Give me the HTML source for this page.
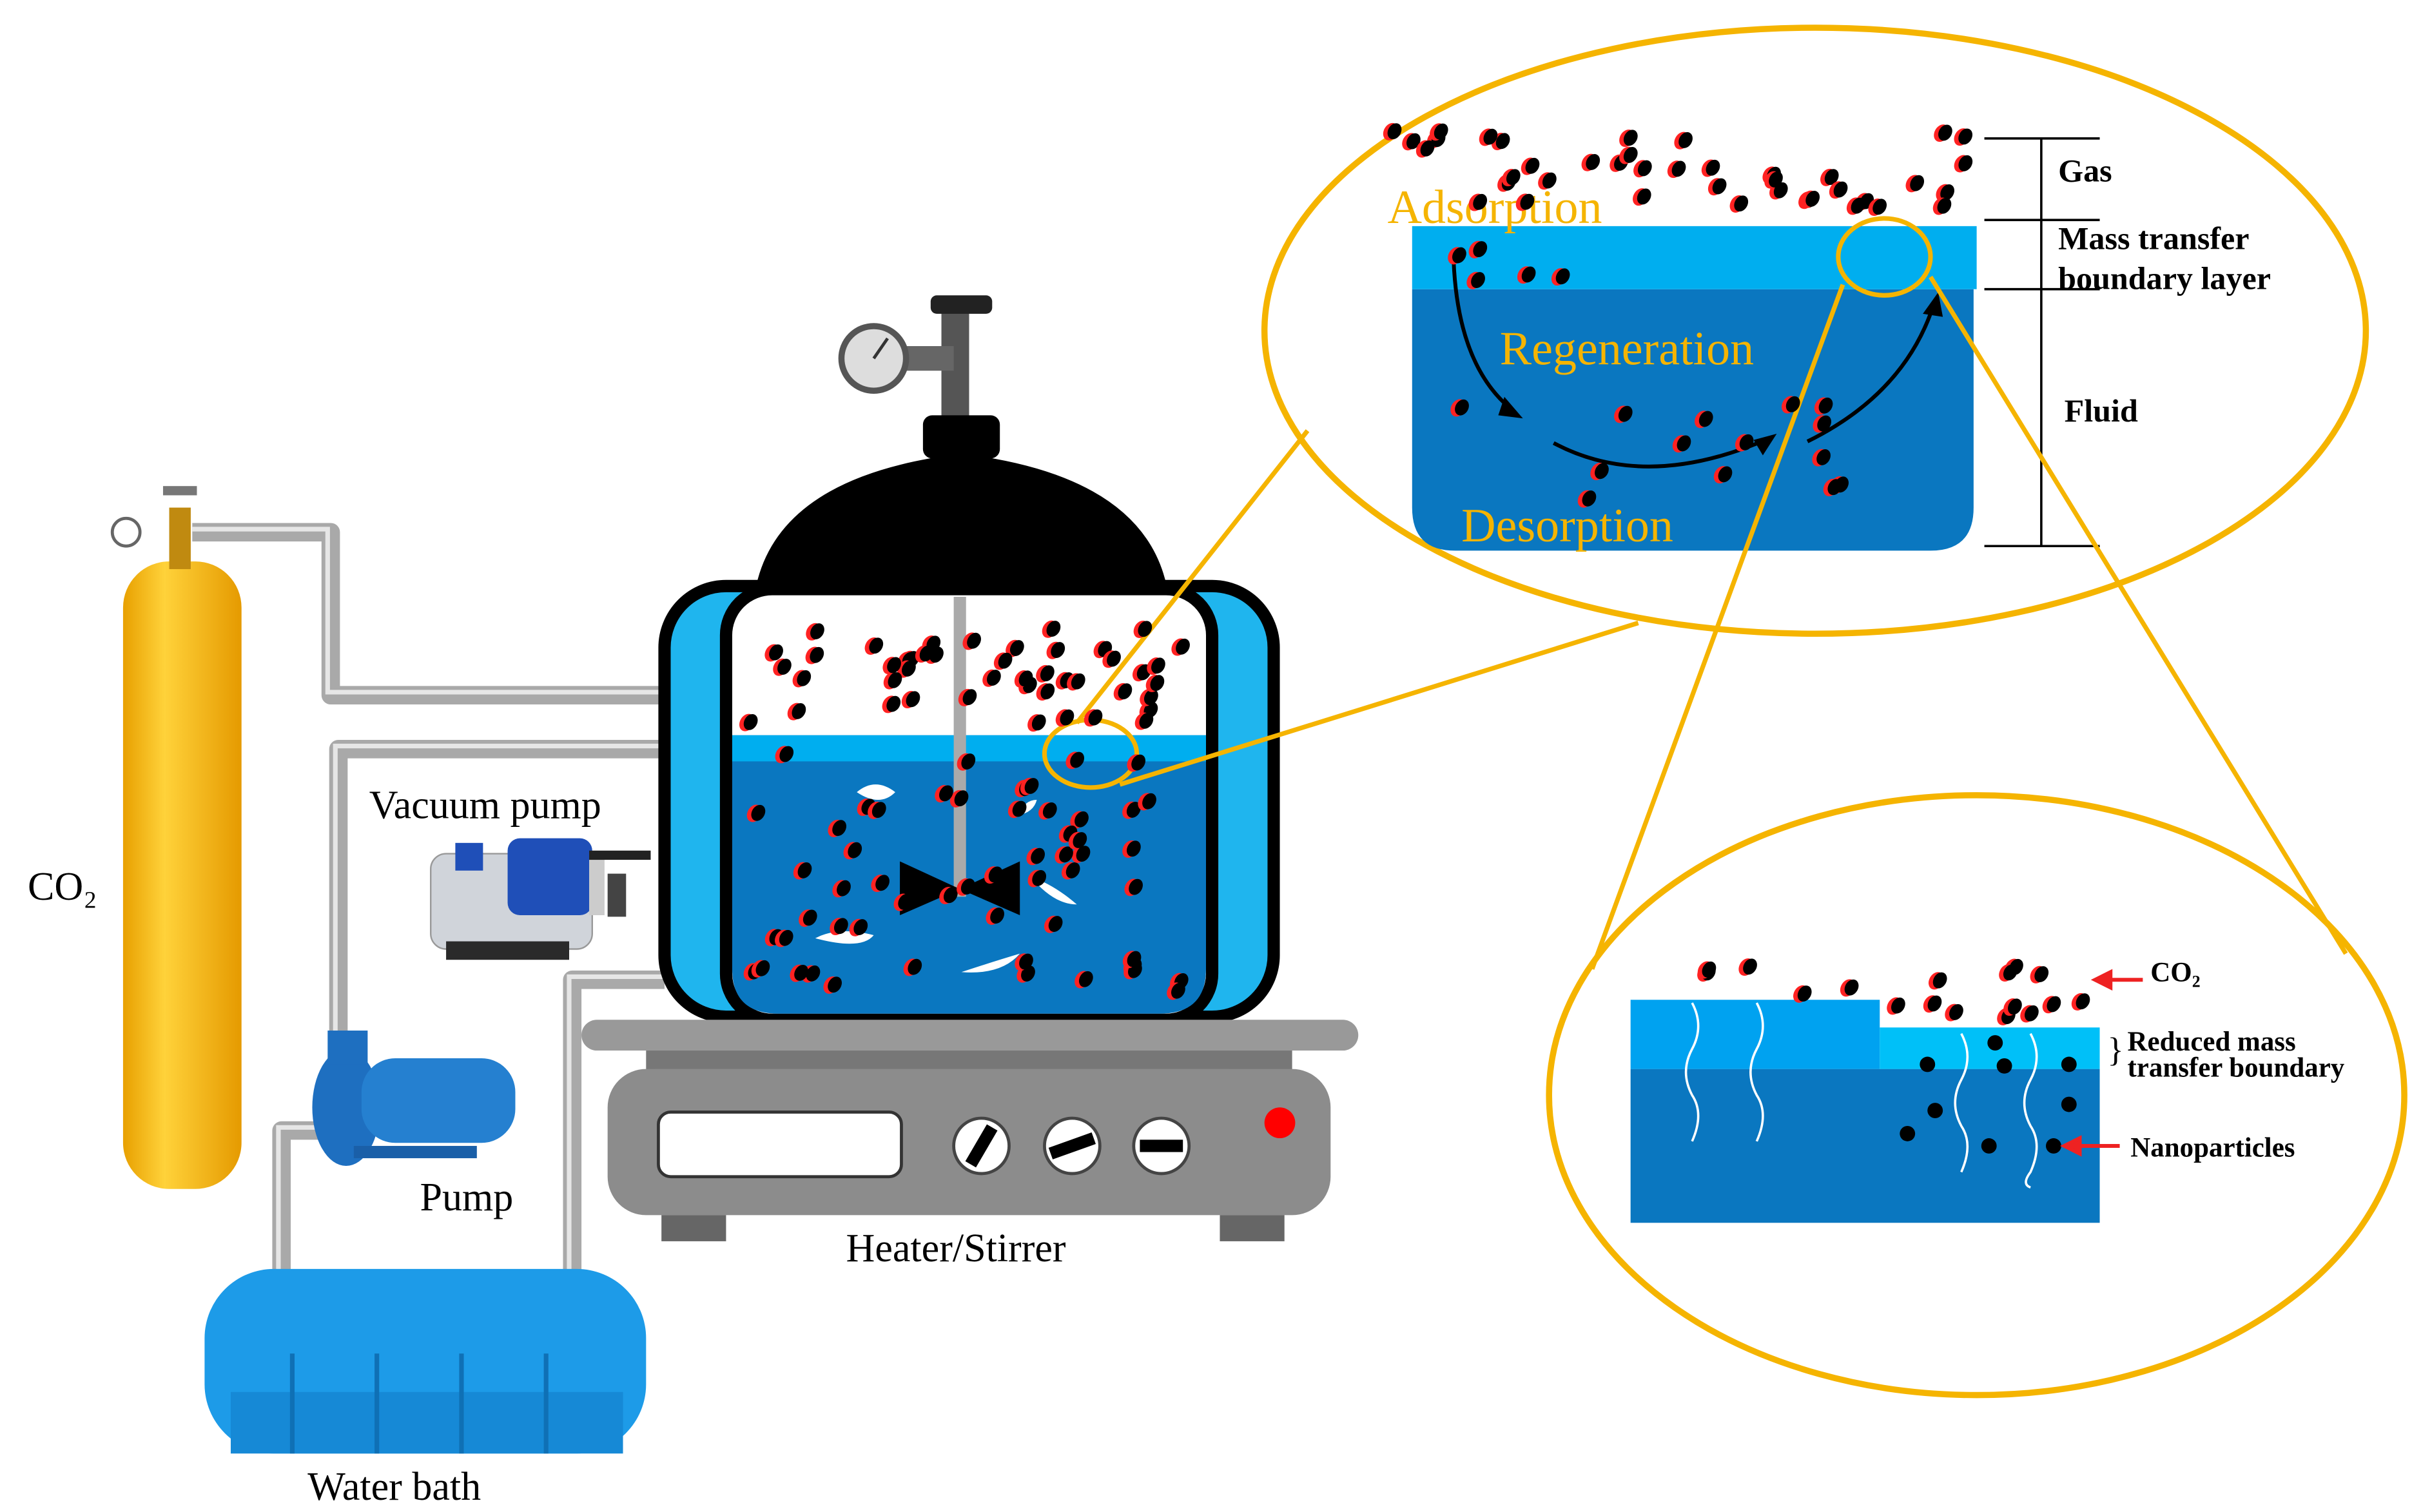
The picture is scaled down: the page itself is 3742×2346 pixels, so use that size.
<!DOCTYPE html>
<html><head><meta charset="utf-8"><style>
html,body{margin:0;padding:0;background:#fff}
svg{display:block}
.s{font-family:"Liberation Serif",serif}
</style></head><body>
<svg id="root" width="3742" height="2346" viewBox="0 0 1568 983" xmlns="http://www.w3.org/2000/svg">
<defs>
<linearGradient id="cyl" x1="0" x2="1"><stop offset="0" stop-color="#e8a000"/><stop offset="0.35" stop-color="#ffd23a"/><stop offset="1" stop-color="#e59a00"/></linearGradient>
</defs>
<rect width="1568" height="983" fill="#fff"/>
<g fill="none" stroke="#a9a9a9" stroke-width="12" stroke-linejoin="round">
<path d="M125 346 H215 V452 H432"/>
<path d="M432 487 H220 V672"/>
<path d="M183 828 V735 H215"/>
<path d="M372 828 V637 H432"/>
</g>
<g fill="none" stroke="#e6e6e6" stroke-width="3">
<path d="M125 344 H213 V450 H432"/>
<path d="M432 485 H218 V672"/>
<path d="M181 828 V733 H215"/>
<path d="M370 828 V635 H432"/>
</g>
<rect x="80" y="365" width="77" height="408" rx="30" fill="url(#cyl)"/>
<rect x="110" y="330" width="14" height="40" fill="#c08a10"/>
<rect x="106" y="316" width="22" height="6" fill="#777"/>
<circle cx="82" cy="346" r="9" fill="#fff" stroke="#666" stroke-width="2"/>
<text x="18" y="585" class="s" font-size="26">CO₂</text>
<rect x="280" y="555" width="105" height="62" rx="10" fill="#d0d4da" stroke="#999"/>
<rect x="330" y="545" width="55" height="50" rx="8" fill="#1f4fb8"/>
<rect x="296" y="548" width="18" height="18" fill="#1f4fb8"/>
<rect x="383" y="555" width="10" height="40" fill="#ccc"/>
<rect x="395" y="568" width="12" height="28" fill="#444"/>
<rect x="383" y="553" width="40" height="6" fill="#222"/>
<rect x="290" y="612" width="80" height="12" fill="#2a2a2a"/>
<text x="240" y="532" class="s" font-size="26">Vacuum pump</text>
<ellipse cx="225" cy="720" rx="22" ry="38" fill="#1e6fc0"/>
<rect x="235" y="688" width="100" height="55" rx="22" fill="#2580d0"/>
<rect x="213" y="670" width="26" height="22" fill="#1e6fc0"/>
<rect x="230" y="745" width="80" height="8" fill="#1a5fa8"/>
<text x="273" y="787" class="s" font-size="26">Pump</text>
<rect x="133" y="825" width="287" height="120" rx="45" fill="#1d9be8"/>
<rect x="150" y="905" width="255" height="40" fill="#1689d6"/>
<g stroke="#0f70b5" stroke-width="3"><line x1="190" y1="880" x2="190" y2="945"/><line x1="245" y1="880" x2="245" y2="945"/><line x1="300" y1="880" x2="300" y2="945"/><line x1="355" y1="880" x2="355" y2="945"/></g>
<text x="200" y="975" class="s" font-size="26">Water bath</text>
<rect x="612" y="200" width="18" height="75" fill="#555"/>
<rect x="605" y="192" width="40" height="12" rx="4" fill="#222"/>
<rect x="585" y="225" width="35" height="16" fill="#666"/>
<circle cx="568" cy="233" r="21" fill="#ddd" stroke="#555" stroke-width="4"/>
<line x1="568" y1="233" x2="577" y2="220" stroke="#333" stroke-width="2"/>
<rect x="600" y="270" width="50" height="28" rx="6" fill="#000"/>
<path d="M490 390 Q500 310 625 295 Q750 310 760 390 Z" fill="#000"/>
<rect x="432" y="381" width="396" height="280" rx="40" fill="#1fb5ee" stroke="#000" stroke-width="8"/>
<rect x="472" y="383" width="316" height="280" rx="30" fill="#fff" stroke="#000" stroke-width="8"/>
<path d="M476 478 H784 V630 Q784 659 754 659 H506 Q476 659 476 630 Z" fill="#0a77c0"/>
<rect x="476" y="478" width="308" height="17" fill="#00aeef"/>
<rect x="620" y="388" width="8" height="195" fill="#aaa"/>
<path d="M585 560 L624 578 L585 595 Z M663 560 L624 578 L663 595 Z" fill="#000"/>
<g fill="#fff"><path d="M530 610 q15 -8 38 -2 q-8 10 -38 2z"/><path d="M557 515 q12 -10 25 0 q-10 10 -25 0z"/><path d="M670 570 q15 5 30 18 q-15 0 -30 -18z"/><path d="M625 632 q18 -6 38 -12 q-12 14 -38 12z"/><path d="M662 530 q4 -10 12 -10 q-2 8 -12 10z"/></g>
<rect x="378" y="663" width="505" height="20" rx="10" fill="#999"/>
<rect x="420" y="683" width="420" height="14" fill="#777"/>
<rect x="395" y="695" width="470" height="95" rx="25" fill="#8c8c8c"/>
<rect x="428" y="723" width="158" height="42" rx="8" fill="#fff" stroke="#333" stroke-width="2"/>
<g fill="#fff" stroke="#444" stroke-width="2"><circle cx="638" cy="745" r="18"/><circle cx="697" cy="745" r="18"/><circle cx="755" cy="745" r="18"/></g>
<g stroke="#000" stroke-width="8"><line x1="631" y1="757" x2="645" y2="733"/><line x1="683" y1="750" x2="711" y2="740"/><line x1="741" y1="745" x2="769" y2="745"/></g>
<circle cx="832" cy="730" r="10" fill="#f00"/>
<rect x="430" y="790" width="42" height="17" fill="#666"/><rect x="793" y="790" width="42" height="17" fill="#666"/>
<text x="550" y="820" class="s" font-size="26">Heater/Stirrer</text>
<g stroke="#f5b400" stroke-width="3" fill="none">
<ellipse cx="709" cy="490" rx="30" ry="22"/>
<line x1="700" y1="470" x2="850" y2="280"/>
<line x1="728" y1="510" x2="1065" y2="405"/>
<ellipse cx="1180" cy="215" rx="358" ry="197" stroke-width="4"/>
<ellipse cx="1285" cy="712" rx="278" ry="195" stroke-width="4"/>
</g>
<path d="M918 188 H1283 V330 Q1283 358 1255 358 H946 Q918 358 918 330 Z" fill="#0a77c0"/>
<rect x="918" y="147" width="367" height="41" fill="#00aeef"/>
<g fill="none" stroke="#000" stroke-width="2.5">
<path d="M945 170 Q948 240 985 268"/><path d="M1010 288 Q1070 320 1150 285"/><path d="M1175 287 Q1240 255 1258 195"/>
</g>
<g fill="#000"><path d="M990 272 L978 258 L974 270 Z"/><path d="M1155 282 L1140 286 L1146 296 Z"/><path d="M1260 190 L1250 204 L1263 206 Z"/></g>
<text x="902" y="145" class="s" font-size="31" fill="#f5b400">Adsorption</text>
<text x="975" y="237" class="s" font-size="31" fill="#f5b400">Regeneration</text>
<text x="950" y="352" class="s" font-size="31" fill="#f5b400">Desorption</text>
<g stroke="#000" stroke-width="1.5"><line x1="1327" y1="90" x2="1327" y2="355"/><line x1="1290" y1="90" x2="1365" y2="90"/><line x1="1290" y1="143" x2="1365" y2="143"/><line x1="1290" y1="188" x2="1365" y2="188"/><line x1="1290" y1="355" x2="1365" y2="355"/></g>
<g class="s" font-size="21" font-weight="bold"><text x="1338" y="118">Gas</text><text x="1338" y="162">Mass transfer</text><text x="1338" y="188">boundary layer</text><text x="1342" y="274">Fluid</text></g>
<g stroke="#f5b400" stroke-width="3" fill="none">
<ellipse cx="1225" cy="167" rx="30" ry="25"/>
<line x1="1198" y1="185" x2="1035" y2="630"/>
<line x1="1255" y1="180" x2="1525" y2="620"/>
</g>
<rect x="1060" y="695" width="305" height="100" fill="#0a77c0"/>
<rect x="1060" y="650" width="162" height="45" fill="#00a2f0"/>
<rect x="1222" y="668" width="143" height="27" fill="#00c0f8"/>
<g fill="none" stroke="#fff" stroke-width="1.5">
<path d="M1100 652 q8 15 0 30 q-8 15 0 30 q8 12 0 30"/>
<path d="M1142 652 q8 15 0 30 q-8 15 0 30 q8 12 0 30"/>
<path d="M1275 672 q8 15 0 30 q-8 15 0 30 q8 12 0 30"/>
<path d="M1320 672 q8 15 0 30 q-8 15 0 30 q8 12 0 30 q-6 8 0 10"/>
</g>
<g fill="#000"><circle cx="1253" cy="692" r="5"/><circle cx="1297" cy="678" r="5"/><circle cx="1303" cy="693" r="5"/><circle cx="1345" cy="692" r="5"/><circle cx="1345" cy="718" r="5"/><circle cx="1258" cy="722" r="5"/><circle cx="1240" cy="737" r="5"/><circle cx="1293" cy="745" r="5"/><circle cx="1335" cy="745" r="5"/></g>
<g stroke="#e22" stroke-width="2.5" fill="#e22"><line x1="1370" y1="637" x2="1393" y2="637"/><path d="M1362 637 l10 -5 v10z"/><line x1="1350" y1="745" x2="1378" y2="745"/><path d="M1342 745 l10 -5 v10z"/></g>
<g class="s" font-weight="bold" font-size="18"><text x="1398" y="638">CO₂</text><text x="1370" y="690" font-size="22" font-weight="normal">}</text><text x="1383" y="683">Reduced mass</text><text x="1383" y="700">transfer boundary</text><text x="1385" y="752">Nanoparticles</text></g>
<g id="dots"></g>
</svg>
<script>
var seed=7;function r(){seed=(seed*16807)%2147483647;return seed/2147483647;}
var g=document.getElementById('dots'),h='';
function add(x1,y1,x2,y2,n){for(var i=0;i<n;i++){var x=x1+r()*(x2-x1),y=y1+r()*(y2-y1);
h+='<ellipse cx="'+(x-2)+'" cy="'+(y+1.5)+'" rx="4.5" ry="6" fill="#f22" transform="rotate(30 '+x+' '+y+')"/><ellipse cx="'+x+'" cy="'+y+'" rx="4.2" ry="5.5" fill="#000" transform="rotate(30 '+x+' '+y+')"/>';}}
add(488,405,770,475,45);add(490,490,770,645,55);
add(905,85,1280,135,40);add(930,160,1020,185,5);add(950,255,1220,330,14);
add(1090,628,1210,648,5);add(1228,628,1360,670,12);
g.innerHTML=h;
</script>
</body></html>
